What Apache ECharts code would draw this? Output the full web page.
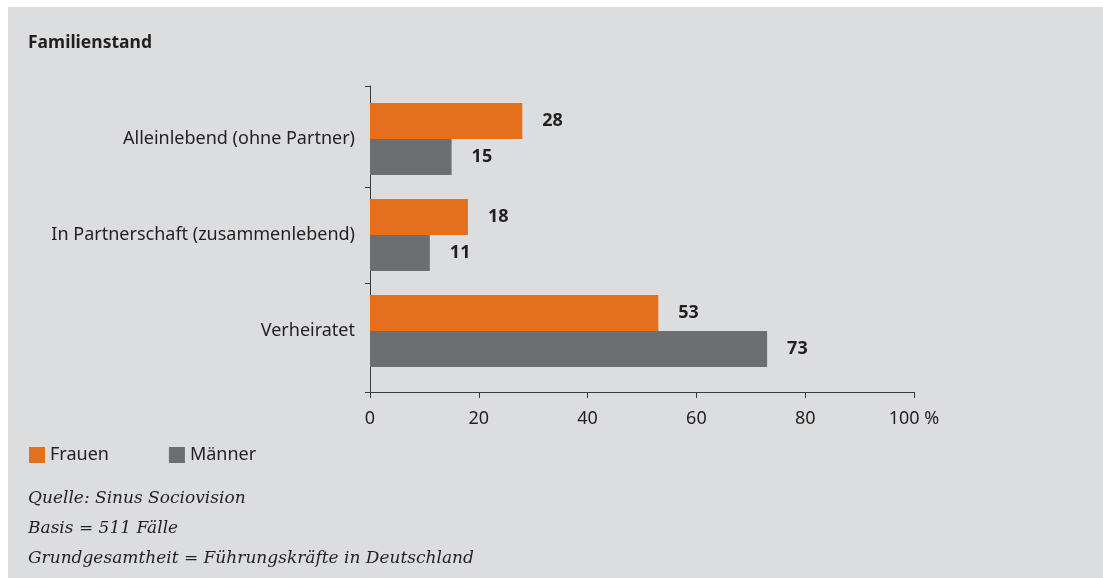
<!DOCTYPE html>
<html>
<head>
<meta charset="utf-8">
<script src="https://cdn.jsdelivr.net/npm/echarts@6/dist/echarts.min.js"></script>
<style>
  html, body { margin: 0; padding: 0; background: #fff; }
  #wrap { position: absolute; left: 8px; top: 7px; width: 1095px; height: 571px; background: #dcdddf; }
  #chart { width: 1095px; height: 571px; }
</style>
</head>
<body>
<div id="wrap"><div id="chart"></div></div>
<script>
// Familienstand – Führungskräfte nach Geschlecht (in %)
const categories = ['Alleinlebend (ohne Partner)', 'In Partnerschaft (zusammenlebend)', 'Verheiratet']
const frauen = [28, 18, 53]
const maenner = [15, 11, 73]
const xTicks = [0, 20, 40, 60, 80, 100]
const notes = [
  'Quelle: Sinus Sociovision',
  'Basis = 511 Fälle',
  'Grundgesamtheit = Führungskräfte in Deutschland'
]

const ink = '#231f20'
const axisColor = '#3a3a3a'
const sans = 'Noto Sans'
const serif = 'DejaVu Serif'

const chart = echarts.init(document.getElementById('chart'))

const valueLabel = {
  show: true, position: 'right', distance: 20,
  color: ink, fontFamily: sans, fontSize: 18, fontWeight: 'bold',
}

chart.setOption({
  animation: false,
  backgroundColor: 'transparent',
  title: {
    text: 'Familienstand',
    left: 15, top: 22,
    textStyle: { color: ink, fontFamily: sans, fontSize: 17.5, fontWeight: 'bold' },
  },
  legend: {
    data: ['Frauen', 'Männer'],
    left: 16, top: 434,
    itemWidth: 16, itemHeight: 16, itemGap: 60,
    icon: 'rect',
    textStyle: { color: ink, fontFamily: sans, fontSize: 18 },
  },
  // grid 0 holds the bars, grid 1 is the frame with the value axis
  grid: [
    { left: 362, top: 84, width: 544, height: 288 },
    { left: 362, top: 79, width: 544, height: 306 },
  ],
  xAxis: [
    { gridIndex: 0, type: 'value', min: 0, max: 100, show: false },
    {
      gridIndex: 1, type: 'value', min: 0, max: 100, interval: 20,
      axisLine: { show: true, lineStyle: { color: axisColor, width: 1 } },
      axisTick: { show: true, length: 6, lineStyle: { color: axisColor } },
      splitLine: { show: false },
      axisLabel: {
        color: ink, fontFamily: sans, fontSize: 18, margin: 18,
        formatter: v => xTicks.includes(v) ? (v === 100 ? '100 %' : String(v)) : '',
      },
    },
  ],
  yAxis: [
    {
      gridIndex: 0, type: 'category', data: categories, inverse: true,
      axisLine: { show: false },
      axisTick: { show: false },
      axisLabel: { color: ink, fontFamily: sans, fontSize: 18, margin: 15 },
    },
    {
      gridIndex: 1, type: 'value', min: 0, max: 1, interval: 1,
      axisLine: { show: true, lineStyle: { color: axisColor, width: 1 } },
      axisTick: { show: true, length: 5, lineStyle: { color: axisColor } },
      axisLabel: { show: false },
      splitLine: { show: false },
    },
    {
      // separators between the category groups
      gridIndex: 0, type: 'value', min: 0, max: categories.length, inverse: true,
      position: 'left',
      axisLine: { show: false },
      axisTick: { show: true, length: 5, customValues: [1, 2], lineStyle: { color: axisColor } },
      axisLabel: { show: false },
      splitLine: { show: false },
    },
  ],
  series: [
    {
      name: 'Frauen', type: 'bar', data: frauen,
      xAxisIndex: 0, yAxisIndex: 0,
      barWidth: 36, barGap: '0%',
      itemStyle: { color: '#e4701e' },
      label: valueLabel,
    },
    {
      name: 'Männer', type: 'bar', data: maenner,
      xAxisIndex: 0, yAxisIndex: 0,
      barWidth: 36,
      itemStyle: { color: '#6d6e71' },
      label: valueLabel,
    },
  ],
  graphic: notes.map((t, i) => ({
    type: 'text', left: 20, top: 483 + i * 30,
    style: { text: t, fill: ink, font: 'italic 17px "' + serif + '"' },
  })),
})
</script>
</body>
</html>
